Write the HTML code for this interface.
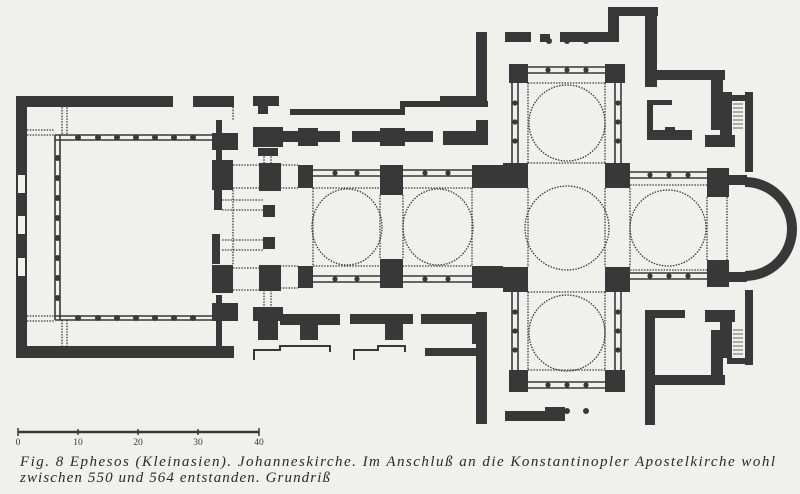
<!DOCTYPE html>
<html><head><meta charset="utf-8"><style>
html,body{margin:0;padding:0;background:#f0f0ec;}
svg{display:block}
.c{font-family:"Liberation Serif",serif;font-style:italic;font-size:15px;fill:#2a2a2a}
</style></head><body>
<svg width="800" height="494" viewBox="0 0 800 494" xmlns="http://www.w3.org/2000/svg">
<rect width="800" height="494" fill="#f0f0ec"/>
<g fill="#383838">
<rect x="16" y="96" width="157" height="11"/>
<rect x="16" y="96" width="11" height="262"/>
<rect x="16" y="346" width="218" height="12"/>
<rect x="193" y="96" width="41" height="11"/>
<rect x="253" y="96" width="26" height="10"/><rect x="258" y="96" width="10" height="18"/>
<rect x="18" y="175" width="7" height="18" fill="#f0f0ec"/>
<rect x="18" y="216" width="7" height="18" fill="#f0f0ec"/>
<rect x="18" y="258" width="7" height="18" fill="#f0f0ec"/>
<rect x="212" y="133" width="26" height="17"/><rect x="216" y="120" width="6" height="40"/>
<rect x="212" y="160" width="21" height="30"/><rect x="214" y="190" width="8" height="20"/>
<rect x="212" y="234" width="8" height="30"/>
<rect x="212" y="265" width="21" height="28"/>
<rect x="212" y="303" width="26" height="18"/><rect x="216" y="295" width="6" height="55"/>
<rect x="253" y="127" width="30" height="20"/><rect x="258" y="148" width="20" height="8"/>
<rect x="259" y="163" width="22" height="28"/>
<rect x="263" y="205" width="12" height="12"/><rect x="263" y="237" width="12" height="12"/>
<rect x="259" y="265" width="22" height="26"/>
<rect x="253" y="307" width="30" height="14"/><rect x="258" y="307" width="20" height="33"/>
<rect x="290" y="109" width="110" height="6"/><rect x="400" y="101" width="88" height="6"/><rect x="400" y="101" width="5" height="14"/>
<rect x="280" y="131" width="60" height="11"/><rect x="298" y="128" width="20" height="18"/>
<rect x="352" y="131" width="81" height="11"/><rect x="380" y="128" width="25" height="18"/>
<rect x="443" y="131" width="45" height="14"/><rect x="476" y="120" width="12" height="25"/>
<rect x="280" y="314" width="60" height="11"/><rect x="300" y="314" width="18" height="26"/>
<rect x="350" y="314" width="63" height="10"/><rect x="385" y="314" width="18" height="26"/>
<rect x="421" y="314" width="64" height="10"/><rect x="472" y="314" width="12" height="30"/>
<rect x="425" y="348" width="60" height="8"/>
<rect x="298" y="165" width="15" height="23"/><rect x="380" y="165" width="23" height="30"/><rect x="472" y="165" width="15" height="23"/>
<rect x="298" y="266" width="15" height="22"/><rect x="380" y="259" width="23" height="29"/><rect x="472" y="266" width="15" height="22"/>
<rect x="483" y="165" width="20" height="23"/><rect x="483" y="266" width="20" height="22"/>
<rect x="503" y="163" width="25" height="25"/><rect x="605" y="163" width="25" height="25"/>
<rect x="503" y="267" width="25" height="25"/><rect x="605" y="267" width="25" height="25"/>
<rect x="509" y="64" width="19" height="19"/><rect x="605" y="64" width="20" height="19"/>
<rect x="509" y="370" width="19" height="22"/><rect x="605" y="370" width="20" height="22"/>
<rect x="707" y="168" width="22" height="29"/><rect x="707" y="260" width="22" height="27"/>
<rect x="476" y="32" width="11" height="68"/><rect x="440" y="96" width="47" height="6"/>
<rect x="505" y="32" width="26" height="10"/><rect x="560" y="32" width="50" height="10"/>
<rect x="540" y="34" width="10" height="8"/>
<rect x="608" y="7" width="11" height="35"/><rect x="608" y="7" width="50" height="9"/>
<rect x="645" y="7" width="12" height="80"/><rect x="645" y="70" width="80" height="10"/>
<rect x="711" y="70" width="12" height="60"/><rect x="720" y="92" width="12" height="45"/>
<rect x="727" y="95" width="26" height="6"/><rect x="745" y="92" width="8" height="80"/>
<rect x="705" y="135" width="30" height="12"/>
<rect x="647" y="100" width="6" height="40"/><rect x="647" y="130" width="45" height="10"/><rect x="665" y="127" width="10" height="10"/>
<rect x="647" y="100" width="25" height="5"/>
<rect x="476" y="312" width="11" height="112"/><rect x="505" y="411" width="60" height="10"/><rect x="545" y="407" width="20" height="14"/>
<rect x="645" y="310" width="10" height="115"/><rect x="645" y="310" width="40" height="8"/>
<rect x="645" y="375" width="80" height="10"/><rect x="711" y="330" width="12" height="55"/>
<rect x="705" y="310" width="30" height="12"/>
<rect x="720" y="318" width="12" height="40"/><rect x="745" y="290" width="8" height="75"/><rect x="727" y="358" width="26" height="6"/>
</g>
<path d="M745 182 A47 47 0 0 1 745 276" fill="none" stroke="#383838" stroke-width="10"/>
<rect x="727" y="175" width="20" height="10" fill="#383838"/><rect x="727" y="272" width="20" height="10" fill="#383838"/>
<g stroke="#383838" stroke-width="0.8">
<path d="M733 104h10M733 108h10M733 112h10M733 116h10M733 120h10M733 124h10M733 128h10"/>
<path d="M733 330h10M733 334h10M733 338h10M733 342h10M733 346h10M733 350h10M733 354h10"/>
</g>
<g fill="none" stroke="#383838" stroke-width="1.6">
<path d="M55 135V320M60 135V320M55 135H212M55 140H212M55 316H212M55 320H212"/>
<path d="M313 170H380M313 176H380M403 170H472M403 176H472M313 276H380M313 282H380M403 276H472M403 282H472"/>
<path d="M630 172H707M630 178H707M630 273H707M630 279H707"/>
<path d="M528 67H605M528 73H605M528 382H605M528 388H605"/>
<path d="M512 83V163M518 83V163M615 83V163M621 83V163M512 292V370M518 292V370M615 292V370M621 292V370"/>
</g>
<g fill="#383838">
<circle cx="57.5" cy="178" r="3"/><circle cx="57.5" cy="198" r="3"/><circle cx="57.5" cy="218" r="3"/><circle cx="57.5" cy="238" r="3"/><circle cx="57.5" cy="258" r="3"/><circle cx="57.5" cy="278" r="3"/><circle cx="57.5" cy="298" r="3"/><circle cx="57.5" cy="158" r="3"/>
<circle cx="78" cy="137.5" r="3"/><circle cx="98" cy="137.5" r="3"/><circle cx="117" cy="137.5" r="3"/><circle cx="136" cy="137.5" r="3"/><circle cx="155" cy="137.5" r="3"/><circle cx="174" cy="137.5" r="3"/><circle cx="193" cy="137.5" r="3"/>
<circle cx="78" cy="318" r="3"/><circle cx="98" cy="318" r="3"/><circle cx="117" cy="318" r="3"/><circle cx="136" cy="318" r="3"/><circle cx="155" cy="318" r="3"/><circle cx="174" cy="318" r="3"/><circle cx="193" cy="318" r="3"/>
<circle cx="335" cy="173" r="2.6"/><circle cx="357" cy="173" r="2.6"/><circle cx="425" cy="173" r="2.6"/><circle cx="448" cy="173" r="2.6"/>
<circle cx="335" cy="279" r="2.6"/><circle cx="357" cy="279" r="2.6"/><circle cx="425" cy="279" r="2.6"/><circle cx="448" cy="279" r="2.6"/>
<circle cx="650" cy="175" r="2.6"/><circle cx="669" cy="175" r="2.6"/><circle cx="688" cy="175" r="2.6"/>
<circle cx="650" cy="276" r="2.6"/><circle cx="669" cy="276" r="2.6"/><circle cx="688" cy="276" r="2.6"/>
<circle cx="548" cy="70" r="2.6"/><circle cx="567" cy="70" r="2.6"/><circle cx="586" cy="70" r="2.6"/>
<circle cx="548" cy="385" r="2.6"/><circle cx="567" cy="385" r="2.6"/><circle cx="586" cy="385" r="2.6"/>
<circle cx="515" cy="103" r="2.6"/><circle cx="515" cy="122" r="2.6"/><circle cx="515" cy="141" r="2.6"/>
<circle cx="618" cy="103" r="2.6"/><circle cx="618" cy="122" r="2.6"/><circle cx="618" cy="141" r="2.6"/>
<circle cx="515" cy="312" r="2.6"/><circle cx="515" cy="331" r="2.6"/><circle cx="515" cy="350" r="2.6"/>
<circle cx="618" cy="312" r="2.6"/><circle cx="618" cy="331" r="2.6"/><circle cx="618" cy="350" r="2.6"/>
<circle cx="549" cy="41" r="3"/><circle cx="567" cy="41" r="3"/><circle cx="586" cy="41" r="3"/>
<circle cx="549" cy="411" r="3"/><circle cx="567" cy="411" r="3"/><circle cx="586" cy="411" r="3"/>
</g>
<g fill="none" stroke="#383838" stroke-width="1.3" stroke-dasharray="1.5 1.3">
<ellipse cx="347" cy="227" rx="35" ry="38"/><ellipse cx="438" cy="227" rx="35" ry="38"/>
<circle cx="567" cy="228" r="42"/><circle cx="668" cy="228" r="38"/>
<circle cx="567" cy="123" r="38"/><circle cx="567" cy="333" r="38"/>
<path d="M313 188V266M380 195V259M403 195V259M472 188V266M280 165H298M280 188H298M280 266H298M280 288H298"/>
<path d="M528 188V267M605 188V267M630 188V267M707 197V260M528 83V163M605 83V163M528 292V370M605 292V370"/>
<path d="M528 83H605M528 163H605M528 292H605M528 370H605M313 188H472M313 266H472M630 185H707M630 270H707M727 197V260"/>
<path d="M233 165H259M233 188H259M233 268H259M233 290H259M222 200H263M222 210H263M222 240H263M222 250H263M233 190V265"/>
<path d="M62 96V135M67 96V135M62 320V346M67 320V346M27 130H55M27 135H55M27 316H55M27 321H55M233 107V120M264 148V163M271 148V163M264 290V307M271 290V307M218 322V346"/>
</g>
<path d="M254 360V350H280V346H330V352M354 360V350H378V346H405V352" fill="none" stroke="#383838" stroke-width="2"/>
<g stroke="#383838" fill="none"><path d="M18 432H259" stroke-width="2.5"/><path d="M18 428V436M78 429V435M138 429V435M198 429V435M259 428V436" stroke-width="1.5"/></g>
<g font-family="Liberation Serif,serif" font-size="9.5" fill="#383838" text-anchor="middle">
<text x="18" y="445">0</text><text x="78" y="445">10</text><text x="138" y="445">20</text><text x="198" y="445">30</text><text x="259" y="445">40</text></g>
<text class="c" x="20" y="466" textLength="755" lengthAdjust="spacing">Fig. 8  Ephesos (Kleinasien).  Johanneskirche.  Im  Anschluß  an  die Konstantinopler Apostelkirche wohl</text>
<text class="c" x="20" y="482" textLength="310" lengthAdjust="spacing">zwischen 550 und 564 entstanden.   Grundriß</text>
</svg>
</body></html>
